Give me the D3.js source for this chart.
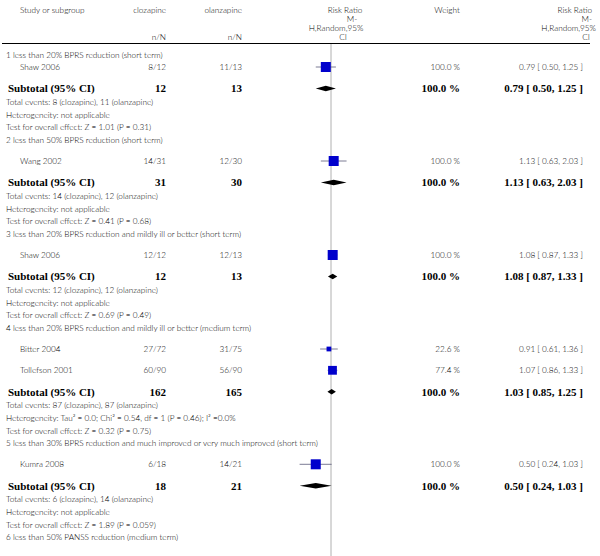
<!DOCTYPE html>
<html>
<head>
<meta charset="utf-8">
<script src="https://cdn.jsdelivr.net/npm/d3@7"></script>
<style>
  body { margin: 0; background: #fff; }
  .lt { font-family: Lato, "Open Sans", sans-serif; font-weight: 300; font-size: 8.2px; fill: #000; }
  .bd { font-family: "Liberation Serif", "DejaVu Serif", serif; font-weight: bold; font-size: 11px; fill: #000; }
</style>
</head>
<body>
<div id="chart"></div>
<script>
// subgroup data
var groupTitles = [
    "1 less than 20% BPRS reduction (short term)",
    "2 less than 50% BPRS reduction (short term)",
    "3 less than 20% BPRS reduction and mildly ill or better (short term)",
    "4 less than 20% BPRS reduction and mildly ill or better (medium term)",
    "5 less than 30% BPRS reduction and much improved or very much improved (short term)",
    "6 less than 50% PANSS reduction (medium term)"
];

// study level data
var studyNames = ["Shaw 2006", "Wang 2002", "Shaw 2006", "Bitter 2004", "Tollefson 2001", "Kumra 2008"];
var studyGroup = [0, 1, 2, 3, 3, 4];
var clozapine = ["8/12", "14/31", "12/12", "27/72", "60/90", "6/18"];
var olanzapine = ["11/13", "12/30", "12/13", "31/75", "56/90", "14/21"];
var studyWeight = [100.0, 100.0, 100.0, 22.6, 77.4, 100.0];
var studyRR = [0.79, 1.13, 1.08, 0.91, 1.07, 0.50];
var studyLo = [0.50, 0.63, 0.87, 0.61, 0.86, 0.24];
var studyHi = [1.25, 2.03, 1.33, 1.36, 1.33, 1.03];

// subtotal data
var subN1 = [12, 31, 12, 162, 18];
var subN2 = [13, 30, 13, 165, 21];
var subWeight = [100.0, 100.0, 100.0, 100.0, 100.0];
var subRR = [0.79, 1.13, 1.08, 1.03, 0.50];
var subLo = [0.50, 0.63, 0.87, 0.85, 0.24];
var subHi = [1.25, 2.03, 1.33, 1.25, 1.03];
var eventsText = [
    "Total events: 8 (clozapine), 11 (olanzapine)",
    "Total events: 14 (clozapine), 12 (olanzapine)",
    "Total events: 12 (clozapine), 12 (olanzapine)",
    "Total events: 87 (clozapine), 87 (olanzapine)",
    "Total events: 6 (clozapine), 14 (olanzapine)"
];
var hetText = [
    "Heterogeneity: not applicable",
    "Heterogeneity: not applicable",
    "Heterogeneity: not applicable",
    "Heterogeneity: Tau\u00b2 = 0.0; Chi\u00b2 = 0.54, df = 1 (P = 0.46); I\u00b2 =0.0%",
    "Heterogeneity: not applicable"
];
var testText = [
    "Test for overall effect: Z = 1.01 (P = 0.31)",
    "Test for overall effect: Z = 0.41 (P = 0.68)",
    "Test for overall effect: Z = 0.69 (P = 0.49)",
    "Test for overall effect: Z = 0.32 (P = 0.75)",
    "Test for overall effect: Z = 1.89 (P = 0.059)"
];

var width = 600, height = 556;

var svg = d3.select("#chart").append("svg")
    .attr("width", width)
    .attr("height", height);

// column positions
var colName = 20, colC = 166, colO = 242, colW = 460, colRR = 583, xMid = 331;

// log scale for the risk ratio
var x = d3.scaleLog().domain([0.01, 100]).range([xMid - 101.3, xMid + 101.3]);

function f2(v) { return v.toFixed(2); }
function rrText(i, rr, lo, hi) { return f2(rr[i]) + " [ " + f2(lo[i]) + ", " + f2(hi[i]) + " ]"; }

// build the row list
var rows = [];
var y = 55;
groupTitles.forEach(function(t, g) {
    rows.push({type: "title", y: y, text: t});
    var first = true;
    studyNames.forEach(function(s, i) {
        if (studyGroup[i] !== g) return;
        y += (g === 0 && first) ? 12 : 21.3;
        first = false;
        rows.push({type: "study", y: y, i: i});
    });
    if (g < subN1.length) {
        y += 21.5; rows.push({type: "sub", y: y, g: g});
        y += 13.8; rows.push({type: "text", y: y, text: eventsText[g]});
        y += 12.6; rows.push({type: "text", y: y, text: hetText[g]});
        y += 12.6; rows.push({type: "text", y: y, text: testText[g]});
        y += 12.2;
    }
});

// header
var hdr = svg.append("g");
function ht(xp, yp, t, anchor) {
    hdr.append("text").attr("class", "lt").attr("x", xp).attr("y", yp)
        .attr("dy", "0.35em").attr("text-anchor", anchor).text(t);
}
ht(colName, 10, "Study or subgroup", "start");
ht(colC, 10, "clozapine", "end");
ht(colO, 10, "olanzapine", "end");
ht(colC, 37, "n/N", "end");
ht(colO, 37, "n/N", "end");
ht(345, 10, "Risk Ratio", "middle");
ht(352, 19, "M-", "middle");
ht(336, 28, "H,Random,95%", "middle");
ht(343, 37, "CI", "middle");
ht(447, 10, "Weight", "middle");
ht(592, 10, "Risk Ratio", "end");
ht(592, 19, "M-", "end");
ht(596, 28, "H,Random,95%", "end");
ht(590, 37, "CI", "end");

svg.append("line")
    .attr("x1", 2).attr("x2", 590).attr("y1", 43.5).attr("y2", 43.5)
    .style("stroke", "#000").style("stroke-width", 1);

// line of no effect
svg.append("line")
    .attr("x1", x(1)).attr("x2", x(1)).attr("y1", 44).attr("y2", height)
    .style("stroke", "#b0b0b0").style("stroke-width", 1);

var body = svg.append("g");

rows.forEach(function(r) {
    if (r.type === "title" || r.type === "text") {
        body.append("text").attr("class", "lt").attr("x", 6).attr("y", r.y)
            .attr("dy", "0.35em").text(r.text);
    } else if (r.type === "study") {
        var i = r.i;
        var cells = [[colName, "start", studyNames[i]], [colC, "end", clozapine[i]], [colO, "end", olanzapine[i]],
            [colW, "end", studyWeight[i].toFixed(1) + " %"], [colRR, "end", rrText(i, studyRR, studyLo, studyHi)]];
        cells.forEach(function(c) {
            body.append("text").attr("class", "lt").attr("x", c[0]).attr("y", r.y)
                .attr("dy", "0.35em").attr("text-anchor", c[1]).text(c[2]);
        });
        // confidence interval
        body.append("line")
            .attr("x1", x(studyLo[i])).attr("x2", x(studyHi[i]))
            .attr("y1", r.y).attr("y2", r.y)
            .style("stroke", "#5a5a7a").style("stroke-width", 0.8);
        // weighted box
        var s = 10 * Math.sqrt(studyWeight[i] / 100);
        body.append("rect")
            .attr("x", x(studyRR[i]) - s / 2).attr("y", r.y - s / 2)
            .attr("width", s).attr("height", s)
            .style("fill", "#0000cc");
    } else if (r.type === "sub") {
        var g = r.g;
        var cells2 = [[8, "start", "Subtotal (95% CI)"], [colC, "end", subN1[g]], [colO, "end", subN2[g]],
            [colW, "end", subWeight[g].toFixed(1) + " %"], [colRR, "end", rrText(g, subRR, subLo, subHi)]];
        cells2.forEach(function(c) {
            body.append("text").attr("class", "bd").attr("x", c[0]).attr("y", r.y)
                .attr("dy", "0.35em").attr("text-anchor", c[1]).text(c[2]);
        });
        // pooled diamond
        var pts = [[x(subLo[g]), r.y], [x(subRR[g]), r.y - 2.8], [x(subHi[g]), r.y], [x(subRR[g]), r.y + 2.8]];
        body.append("path")
            .attr("d", d3.line()(pts) + "Z")
            .style("fill", "#000");
    }
});
</script>
</body>
</html>
